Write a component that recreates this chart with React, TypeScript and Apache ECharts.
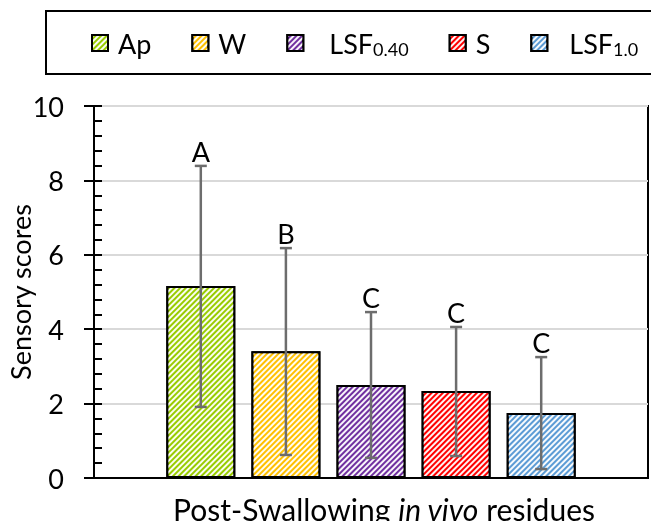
import React, { useEffect, useRef } from 'react';
import * as echarts from 'echarts';

const seriesNames = ['Ap', 'W', 'LSF0.40', 'S', 'LSF1.0'];
const legendLabels = ['Ap', 'W', '{g| }LSF{sub|0.40}', 'S', '{h| }LSF{sub|1.0}'];
const positions = [0, 1, 2, 3, 4];
const means = [5.16, 3.41, 2.5, 2.34, 1.75];
const errLow = [1.91, 0.62, 0.54, 0.59, 0.24];
const errHigh = [8.39, 6.18, 4.46, 4.06, 3.25];
const letters = ['A', 'B', 'C', 'C', 'C'];
const colors = ['#99cc00', '#ffc000', '#7030a0', '#ff0000', '#5b9bd5'];

const FONT = 'Lato';
const FS = 27;

export default function App() {
  const ref = useRef<HTMLDivElement>(null);
  useEffect(() => {
    const chart = echarts.init(ref.current!, null, { renderer: 'svg' });
    const barSeries = seriesNames.map((name, i) => ({
      name,
      type: 'bar',
      xAxisIndex: 0,
      yAxisIndex: 0,
      barWidth: 69,
      barGap: '-100%',
      data: [[positions[i], means[i]]],
      itemStyle: {
        color: colors[i],
        borderColor: '#000',
        borderWidth: 2,
        decal: {
          symbol: 'rect',
          symbolSize: 1,
          color: 'rgba(255,255,255,0.95)',
          dashArrayX: [1, 0],
          dashArrayY: [1.6, 1.8],
          rotation: -Math.PI / 4,
        },
      },
      z: 2,
    }));
    const errData = positions.map((p, i) => [p, errLow[i], errHigh[i], i]);
    const option: any = {
      animation: false,
      textStyle: { fontFamily: FONT },
      graphic: [
        {
          type: 'rect',
          silent: true,
          shape: { x: 46, y: 11, width: 640, height: 63 },
          style: { fill: 'none', stroke: '#000', lineWidth: 2 },
        },
      ],
      legend: {
        data: seriesNames,
        left: 91,
        top: 28,
        padding: 0,
        itemWidth: 16,
        itemHeight: 16,
        itemGap: 40,
        icon: 'rect',
        formatter: (n: string) => legendLabels[seriesNames.indexOf(n)],
        textStyle: {
          fontFamily: FONT,
          fontSize: FS,
          color: '#000',
          lineHeight: 30,
          padding: [0, 0, 0, 5],
          rich: {
            g: { width: 16, fontSize: FS, lineHeight: 30 },
            h: { width: 12, fontSize: FS, lineHeight: 30 },
            sub: { fontFamily: FONT, fontSize: 18, color: '#000', verticalAlign: 'bottom', lineHeight: 30, padding: [12, 0, 0, 0] },
          },
        },
      },
      grid: {
        left: 94,
        right: 3,
        top: 106,
        bottom: 43,
        containLabel: false,
        outerBoundsMode: 'none',
        show: true,
        borderColor: '#000',
        borderWidth: 2,
        backgroundColor: 'transparent',
      },
      xAxis: {
        type: 'value',
        min: -1.255,
        max: 5.255,
        axisLine: { show: true, onZero: false, lineStyle: { color: '#000', width: 2 } },
        axisTick: { show: false },
        axisLabel: { show: false },
        splitLine: { show: false },
        name: '{n|Post-Swallowing }{i|in vivo}{n| residues}',
        nameLocation: 'middle',
        nameGap: 16,
        nameMoveOverlap: false,
        nameTextStyle: {
          verticalAlign: 'top',
          padding: [0, 0, 0, 26],
          rich: {
            n: { fontFamily: FONT, fontSize: 30, color: '#000' },
            i: { fontFamily: FONT, fontSize: 30, color: '#000', fontStyle: 'italic' },
          },
        },
      },
      yAxis: [
        {
          type: 'value',
          min: 0,
          max: 10,
          interval: 2,
          axisLine: { show: true, onZero: false, lineStyle: { color: '#000', width: 2 } },
          axisTick: { show: true, inside: false, length: 10, lineStyle: { color: '#000', width: 2 } },
          axisLabel: { fontFamily: FONT, fontSize: FS, color: '#000', margin: 30 },
          splitLine: { show: true, lineStyle: { color: '#d9d9d9', width: 2 } },
          name: 'Sensory scores',
          nameLocation: 'middle',
          nameGap: 60,
          nameMoveOverlap: false,
          nameTextStyle: { fontFamily: FONT, fontSize: FS, color: '#000' },
        },
        {
          type: 'value',
          min: 0,
          max: 10,
          interval: 0.4,
          position: 'left',
          axisLine: { show: false, onZero: false },
          axisTick: { show: true, inside: true, length: 8, lineStyle: { color: '#000', width: 2 } },
          axisLabel: { show: false },
          splitLine: { show: false },
        },
      ],
      series: [
        ...barSeries,
        {
          name: 'err',
          type: 'custom',
          xAxisIndex: 0,
          yAxisIndex: 0,
          z: 5,
          encode: { x: 0, y: [1, 2] },
          data: errData,
          renderItem: (params: any, api: any) => {
            const x = api.value(0);
            const top = api.coord([x, api.value(2)]);
            const bot = api.coord([x, api.value(1)]);
            const idx = api.value(3);
            const cap = 6;
            const st = { stroke: '#6d6d6d', lineWidth: 2.5 };
            return {
              type: 'group',
              children: [
                { type: 'line', shape: { x1: top[0], y1: top[1], x2: bot[0], y2: bot[1] }, style: st },
                { type: 'line', shape: { x1: top[0] - cap, y1: top[1], x2: top[0] + cap, y2: top[1] }, style: st },
                { type: 'line', shape: { x1: bot[0] - cap, y1: bot[1], x2: bot[0] + cap, y2: bot[1] }, style: st },
                {
                  type: 'text',
                  style: {
                    text: letters[idx],
                    x: top[0],
                    y: top[1] - 1,
                    align: 'center',
                    verticalAlign: 'bottom',
                    fontFamily: FONT,
                    fontSize: FS,
                    fill: '#000',
                  },
                },
              ],
            };
          },
        },
      ],
    };
    chart.setOption(option);
    return () => chart.dispose();
  }, []);
  return <div ref={ref} style={{ position: 'fixed', left: 0, top: 0, width: 651, height: 521 }} />;
}
